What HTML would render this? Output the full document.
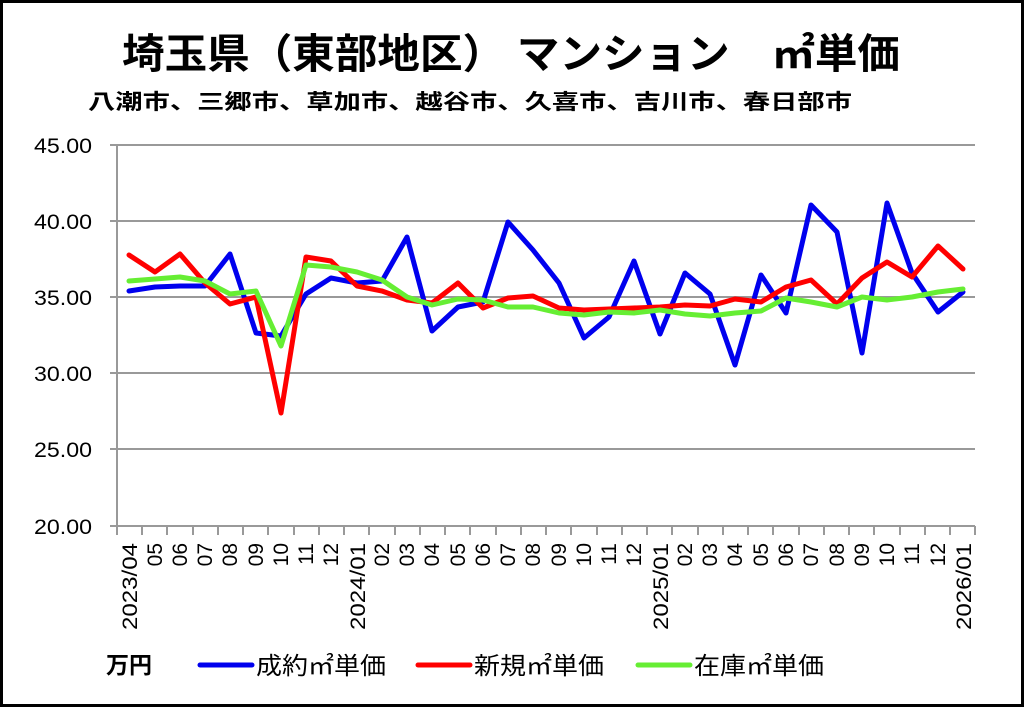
<!DOCTYPE html>
<html><head><meta charset="utf-8"><style>
html,body{margin:0;padding:0;background:#fff;}
svg{display:block;font-family:"Liberation Sans","Noto Sans CJK JP",sans-serif;}
</style></head><body>
<svg width="1024" height="707" viewBox="0 0 1024 707" xmlns="http://www.w3.org/2000/svg">
<rect x="0" y="0" width="1024" height="707" fill="#fff"/>
<rect x="1.5" y="1.5" width="1021" height="704" fill="none" stroke="#000" stroke-width="3"/>
<text x="122" y="68" font-size="41" font-weight="bold" fill="#000" textLength="778" lengthAdjust="spacingAndGlyphs">埼玉県（東部地区） マンション　㎡単価</text>
<text x="88" y="109" font-size="21" font-weight="bold" fill="#000" textLength="764" lengthAdjust="spacingAndGlyphs">八潮市、三郷市、草加市、越谷市、久喜市、吉川市、春日部市</text>
<g stroke="#999" stroke-width="2">
<line x1="117" y1="145" x2="975" y2="145"/>
<line x1="117" y1="221" x2="975" y2="221"/>
<line x1="117" y1="297" x2="975" y2="297"/>
<line x1="117" y1="373" x2="975" y2="373"/>
<line x1="117" y1="449" x2="975" y2="449"/>
<line x1="110" y1="526" x2="975" y2="526"/>
<line x1="117" y1="145" x2="117" y2="535"/>
<line x1="110" y1="145" x2="117" y2="145"/><line x1="110" y1="221" x2="117" y2="221"/><line x1="110" y1="297" x2="117" y2="297"/><line x1="110" y1="373" x2="117" y2="373"/><line x1="110" y1="449" x2="117" y2="449"/>
</g>
<g stroke="#999" stroke-width="2">
<line x1="142" y1="526" x2="142" y2="535"/><line x1="167" y1="526" x2="167" y2="535"/><line x1="193" y1="526" x2="193" y2="535"/><line x1="218" y1="526" x2="218" y2="535"/><line x1="243" y1="526" x2="243" y2="535"/><line x1="268" y1="526" x2="268" y2="535"/><line x1="294" y1="526" x2="294" y2="535"/><line x1="319" y1="526" x2="319" y2="535"/><line x1="344" y1="526" x2="344" y2="535"/><line x1="369" y1="526" x2="369" y2="535"/><line x1="395" y1="526" x2="395" y2="535"/><line x1="420" y1="526" x2="420" y2="535"/><line x1="445" y1="526" x2="445" y2="535"/><line x1="470" y1="526" x2="470" y2="535"/><line x1="496" y1="526" x2="496" y2="535"/><line x1="521" y1="526" x2="521" y2="535"/><line x1="546" y1="526" x2="546" y2="535"/><line x1="571" y1="526" x2="571" y2="535"/><line x1="597" y1="526" x2="597" y2="535"/><line x1="622" y1="526" x2="622" y2="535"/><line x1="647" y1="526" x2="647" y2="535"/><line x1="672" y1="526" x2="672" y2="535"/><line x1="698" y1="526" x2="698" y2="535"/><line x1="723" y1="526" x2="723" y2="535"/><line x1="748" y1="526" x2="748" y2="535"/><line x1="773" y1="526" x2="773" y2="535"/><line x1="799" y1="526" x2="799" y2="535"/><line x1="824" y1="526" x2="824" y2="535"/><line x1="849" y1="526" x2="849" y2="535"/><line x1="874" y1="526" x2="874" y2="535"/><line x1="900" y1="526" x2="900" y2="535"/><line x1="925" y1="526" x2="925" y2="535"/><line x1="950" y1="526" x2="950" y2="535"/><line x1="975" y1="526" x2="975" y2="535"/>
</g>
<g font-size="21" fill="#000" text-anchor="end">
<text x="92" y="153" textLength="58" lengthAdjust="spacingAndGlyphs">45.00</text><text x="92" y="229" textLength="58" lengthAdjust="spacingAndGlyphs">40.00</text><text x="92" y="305" textLength="58" lengthAdjust="spacingAndGlyphs">35.00</text><text x="92" y="381" textLength="58" lengthAdjust="spacingAndGlyphs">30.00</text><text x="92" y="457" textLength="58" lengthAdjust="spacingAndGlyphs">25.00</text><text x="92" y="534" textLength="58" lengthAdjust="spacingAndGlyphs">20.00</text>
</g>
<g font-size="21" fill="#000" text-anchor="end">
<text transform="translate(137,543) rotate(-90)" textLength="87" lengthAdjust="spacingAndGlyphs">2023/04</text>
<text transform="translate(162,543) rotate(-90)">05</text>
<text transform="translate(187,543) rotate(-90)">06</text>
<text transform="translate(212,543) rotate(-90)">07</text>
<text transform="translate(237,543) rotate(-90)">08</text>
<text transform="translate(263,543) rotate(-90)">09</text>
<text transform="translate(288,543) rotate(-90)">10</text>
<text transform="translate(313,543) rotate(-90)">11</text>
<text transform="translate(338,543) rotate(-90)">12</text>
<text transform="translate(365,543) rotate(-90)" textLength="87" lengthAdjust="spacingAndGlyphs">2024/01</text>
<text transform="translate(389,543) rotate(-90)">02</text>
<text transform="translate(414,543) rotate(-90)">03</text>
<text transform="translate(439,543) rotate(-90)">04</text>
<text transform="translate(465,543) rotate(-90)">05</text>
<text transform="translate(490,543) rotate(-90)">06</text>
<text transform="translate(515,543) rotate(-90)">07</text>
<text transform="translate(540,543) rotate(-90)">08</text>
<text transform="translate(566,543) rotate(-90)">09</text>
<text transform="translate(591,543) rotate(-90)">10</text>
<text transform="translate(616,543) rotate(-90)">11</text>
<text transform="translate(641,543) rotate(-90)">12</text>
<text transform="translate(668,543) rotate(-90)" textLength="87" lengthAdjust="spacingAndGlyphs">2025/01</text>
<text transform="translate(692,543) rotate(-90)">02</text>
<text transform="translate(717,543) rotate(-90)">03</text>
<text transform="translate(742,543) rotate(-90)">04</text>
<text transform="translate(768,543) rotate(-90)">05</text>
<text transform="translate(793,543) rotate(-90)">06</text>
<text transform="translate(818,543) rotate(-90)">07</text>
<text transform="translate(844,543) rotate(-90)">08</text>
<text transform="translate(869,543) rotate(-90)">09</text>
<text transform="translate(894,543) rotate(-90)">10</text>
<text transform="translate(919,543) rotate(-90)">11</text>
<text transform="translate(945,543) rotate(-90)">12</text>
<text transform="translate(971,543) rotate(-90)" textLength="87" lengthAdjust="spacingAndGlyphs">2026/01</text>
</g>
<g fill="none" stroke-width="5" stroke-linejoin="round" stroke-linecap="round">
<polyline stroke="#0000ee" points="129,291 155,287 180,286 205,286 230,254 256,333 281,336 306,294 331,278 357,283 382,281 407,237 432,331 458,307 483,302 508,222 533,250 559,283 584,338 609,317 634,261 660,334 685,273 710,294 735,365 761,275 786,313 811,205 837,232 862,353 887,203 912,273 938,312 963,292"/>
<polyline stroke="#ff0000" points="129,255 155,272 180,254 205,283 230,304 256,297 281,413 306,257 331,261 357,286 382,291 407,300 432,303 458,283 483,308 508,298 533,296 559,308 584,310 609,309 634,308 660,307 685,305 710,306 735,299 761,302 786,287 811,280 837,304 862,278 887,262 912,277 938,246 963,269"/>
<polyline stroke="#66ee33" points="129,281 155,279 180,277 205,281 230,294 256,291 281,346 306,265 331,267 357,272 382,280 407,297 432,305 458,299 483,300 508,307 533,307 559,313 584,315 609,312 634,313 660,310 685,314 710,316 735,313 761,311 786,298 811,302 837,307 862,297 887,300 912,297 938,292 963,289"/>
</g>
<text x="106" y="673" font-size="23" font-weight="bold" fill="#000">万円</text>
<line x1="200" y1="665" x2="252" y2="665" stroke="#0000ee" stroke-width="5" stroke-linecap="round"/>
<text x="256" y="674" font-size="24" fill="#000" textLength="130" lengthAdjust="spacingAndGlyphs">成約㎡単価</text>
<line x1="418" y1="665" x2="470" y2="665" stroke="#ff0000" stroke-width="5" stroke-linecap="round"/>
<text x="474" y="674" font-size="24" fill="#000" textLength="130" lengthAdjust="spacingAndGlyphs">新規㎡単価</text>
<line x1="638" y1="665" x2="690" y2="665" stroke="#66ee33" stroke-width="5" stroke-linecap="round"/>
<text x="694" y="674" font-size="24" fill="#000" textLength="130" lengthAdjust="spacingAndGlyphs">在庫㎡単価</text>
</svg>
</body></html>
